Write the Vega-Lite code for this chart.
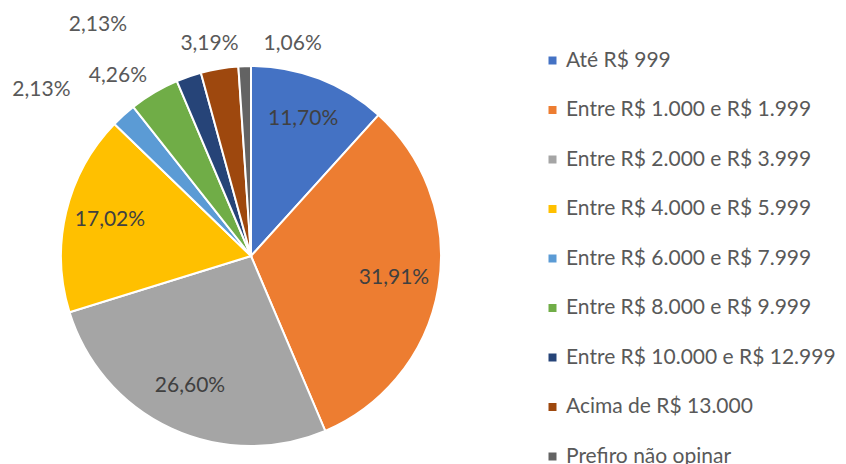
{
  "$schema": "https://vega.github.io/schema/vega-lite/v6.json",
  "autosize": "none",
  "width": 502,
  "height": 416,
  "padding": {"top": 48, "left": 0, "right": 344, "bottom": 0},
  "background": "white",
  "config": {"view": {"stroke": null}, "font": "Lato"},
  "data": {
    "values": [
      {"ordem": 1, "faixa": "Até R$ 999", "pct": 11.70, "rotulo": "11,70%"},
      {"ordem": 2, "faixa": "Entre R$ 1.000 e R$ 1.999", "pct": 31.91, "rotulo": "31,91%"},
      {"ordem": 3, "faixa": "Entre R$ 2.000 e R$ 3.999", "pct": 26.60, "rotulo": "26,60%"},
      {"ordem": 4, "faixa": "Entre R$ 4.000 e R$ 5.999", "pct": 17.02, "rotulo": "17,02%"},
      {"ordem": 5, "faixa": "Entre R$ 6.000 e R$ 7.999", "pct": 2.13, "rotulo": "2,13%"},
      {"ordem": 6, "faixa": "Entre R$ 8.000 e R$ 9.999", "pct": 4.26, "rotulo": "4,26%"},
      {"ordem": 7, "faixa": "Entre R$ 10.000 e R$ 12.999", "pct": 2.13, "rotulo": "2,13%"},
      {"ordem": 8, "faixa": "Acima de R$ 13.000", "pct": 3.19, "rotulo": "3,19%"},
      {"ordem": 9, "faixa": "Prefiro não opinar", "pct": 1.06, "rotulo": "1,06%"}
    ]
  },
  "encoding": {
    "theta": {"field": "pct", "type": "quantitative", "stack": true},
    "order": {"field": "ordem", "type": "quantitative"}
  },
  "layer": [
    {
      "mark": {"type": "arc", "outerRadius": 190, "stroke": "white", "strokeWidth": 2},
      "encoding": {
        "color": {
          "field": "faixa", "type": "nominal", "sort": null,
          "scale": {
            "domain": ["Até R$ 999", "Entre R$ 1.000 e R$ 1.999", "Entre R$ 2.000 e R$ 3.999", "Entre R$ 4.000 e R$ 5.999", "Entre R$ 6.000 e R$ 7.999", "Entre R$ 8.000 e R$ 9.999", "Entre R$ 10.000 e R$ 12.999", "Acima de R$ 13.000", "Prefiro não opinar"],
            "range": ["#4472C4", "#ED7D31", "#A5A5A5", "#FFC000", "#5B9BD5", "#70AD47", "#264478", "#9E480E", "#636363"]
          },
          "legend": {
            "title": null,
            "orient": "none",
            "legendX": 542,
            "legendY": 2,
            "symbolType": "square",
            "symbolSize": 64,
            "symbolStrokeWidth": 0,
            "labelFontSize": 21,
            "labelColor": "#595959",
            "labelFont": "Lato",
            "labelOffset": 3,
            "rowPadding": 27.5,
            "labelLimit": 400
          }
        }
      }
    },
    {
      "mark": {"type": "text", "radius": 145, "fontSize": 21, "fill": "#404040", "dy": -2},
      "encoding": {
        "text": {"condition": {"test": "datum.pct > 10", "field": "rotulo"}, "value": ""}
      }
    },
    {
      "mark": {"type": "text", "radius": 220, "fontSize": 21, "fill": "#595959", "dx": -62, "dy": -3},
      "encoding": {"text": {"condition": {"test": "datum.ordem == 5", "field": "rotulo"}, "value": ""}}
    },
    {
      "mark": {"type": "text", "radius": 220, "fontSize": 21, "fill": "#595959", "dx": -21, "dy": 9},
      "encoding": {"text": {"condition": {"test": "datum.ordem == 6", "field": "rotulo"}, "value": ""}}
    },
    {
      "mark": {"type": "text", "radius": 220, "fontSize": 21, "fill": "#595959", "dx": -81, "dy": -23},
      "encoding": {"text": {"condition": {"test": "datum.ordem == 7", "field": "rotulo"}, "value": ""}}
    },
    {
      "mark": {"type": "text", "radius": 220, "fontSize": 21, "fill": "#595959", "dx": -5, "dy": 5},
      "encoding": {"text": {"condition": {"test": "datum.ordem == 8", "field": "rotulo"}, "value": ""}}
    },
    {
      "mark": {"type": "text", "radius": 220, "fontSize": 21, "fill": "#595959", "dx": 49, "dy": 8},
      "encoding": {"text": {"condition": {"test": "datum.ordem == 9", "field": "rotulo"}, "value": ""}}
    }
  ]
}
